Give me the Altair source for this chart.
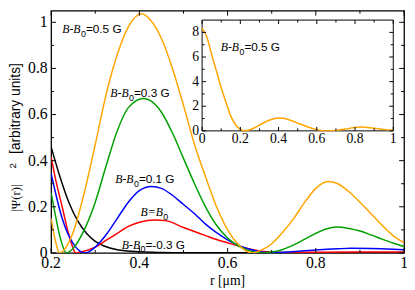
import altair as alt
import pandas as pd

# ---------------- data ----------------
names = ["B-B0=-0.3 G", "B=B0", "B-B0=0.1 G", "B-B0=0.3 G", "B-B0=0.5 G"]
colors = ["#000000", "#ff0000", "#0000ff", "#00a000", "#ffa500"]

r_black = [0.2, 0.22, 0.24, 0.26, 0.28, 0.3, 0.32, 0.35, 0.4, 0.45, 0.5, 0.6, 0.8, 1.0]
psi_black = [0.46, 0.33, 0.22, 0.14, 0.085, 0.05, 0.03, 0.014, 0.005, 0.002, 0.001, 0.001, 0.001, 0.001]

r_red = [0.2, 0.21, 0.225, 0.24, 0.25, 0.255, 0.27, 0.3, 0.325, 0.35, 0.375, 0.4, 0.435,
         0.46, 0.5, 0.55, 0.575, 0.6, 0.625, 0.65, 0.675, 0.7, 0.75, 0.8, 0.9, 1.0]
psi_red = [0.415, 0.32, 0.2, 0.08, 0.02, 0.0, 0.005, 0.025, 0.055, 0.085, 0.115, 0.133, 0.143,
           0.14, 0.11, 0.075, 0.058, 0.044, 0.03, 0.017, 0.008, 0.003, 0.002, 0.003, 0.004, 0.004]

r_blue = [0.2, 0.21, 0.225, 0.25, 0.265, 0.276, 0.29, 0.3, 0.325, 0.35, 0.375, 0.4, 0.427, 0.45,
          0.475, 0.5, 0.525, 0.55, 0.575, 0.6, 0.625, 0.65, 0.68, 0.7, 0.75, 0.8, 0.85, 0.88,
          0.925, 0.975, 1.0]
psi_blue = [0.345, 0.26, 0.15, 0.04, 0.008, 0.0, 0.01, 0.025, 0.08, 0.15, 0.22, 0.27, 0.288, 0.28,
            0.25, 0.21, 0.17, 0.125, 0.088, 0.057, 0.033, 0.016, 0.003, 0.001, 0.006, 0.013, 0.018,
            0.02, 0.019, 0.016, 0.014]

r_green = [0.2, 0.21, 0.22, 0.235, 0.25, 0.275, 0.3, 0.325, 0.35, 0.375, 0.41, 0.425, 0.45, 0.475,
           0.5, 0.525, 0.55, 0.575, 0.6, 0.625, 0.65, 0.68, 0.7, 0.725, 0.75, 0.775, 0.8, 0.825,
           0.845, 0.875, 0.9, 0.925, 0.95, 0.975, 1.0]
psi_green = [0.26, 0.16, 0.07, 0.0, 0.02, 0.10, 0.22, 0.38, 0.53, 0.63, 0.67, 0.66, 0.61, 0.52,
             0.41, 0.30, 0.20, 0.12, 0.065, 0.03, 0.009, 0.0, 0.004, 0.015, 0.035, 0.06, 0.085,
             0.105, 0.112, 0.106, 0.095, 0.078, 0.06, 0.043, 0.028]

r_orange = [0.2, 0.21, 0.219, 0.23, 0.25, 0.275, 0.3, 0.325, 0.35, 0.375, 0.405, 0.425, 0.45,
            0.475, 0.5, 0.525, 0.55, 0.575, 0.6, 0.625, 0.655, 0.68, 0.7, 0.725, 0.75, 0.775,
            0.8, 0.827, 0.85, 0.875, 0.9, 0.925, 0.95, 0.975, 1.0]
psi_orange = [0.15, 0.05, 0.0, 0.015, 0.09, 0.26, 0.47, 0.69, 0.86, 0.98, 1.037, 1.01, 0.93,
              0.80, 0.64, 0.47, 0.33, 0.20, 0.10, 0.035, 0.0, 0.015, 0.04, 0.09, 0.15, 0.22,
              0.28, 0.31, 0.30, 0.265, 0.22, 0.17, 0.12, 0.075, 0.045]

# inset: B-B0 = 0.5 G over the full range
r_inset = [0.0, 0.025, 0.05, 0.075, 0.1, 0.125, 0.15, 0.175, 0.2, 0.219, 0.25, 0.275, 0.3, 0.35,
           0.405, 0.45, 0.5, 0.55, 0.6, 0.655, 0.7, 0.75, 0.8, 0.827, 0.85, 0.9, 0.95, 1.0]
psi_inset = [8.35, 7.6, 6.2, 4.85, 3.5, 2.3, 1.2, 0.5, 0.13, 0.0, 0.09, 0.26, 0.47, 0.86,
             1.037, 0.93, 0.64, 0.33, 0.10, 0.0, 0.04, 0.15, 0.28, 0.31, 0.30, 0.22, 0.12, 0.045]

# curve annotations (position of the end of the italic part)
lab_r = [0.2667, 0.3756, 0.3867, 0.4533, 0.4016]
lab_v = [0.955, 0.677, 0.302, 0.158, 0.019]
lab_a = ["B-B", "B-B", "B-B", "B=B", "B-B"]
lab_b = ["=0.5 G", "=0.3 G", "=0.1 G", "", "=-0.3 G"]

inset_lab_r = [0.193]
inset_lab_v = [6.47]

# ticks and tick labels
main_major_x = [0.2, 0.4, 0.6, 0.8, 1.0]
main_major_x_text = ["0.2", "0.4", "0.6", "0.8", "1"]
main_minor_x = [0.3, 0.5, 0.7, 0.9]
main_major_y = [0.0, 0.2, 0.4, 0.6, 0.8, 1.0]
main_major_y_text = ["0", "0.2", "0.4", "0.6", "0.8", "1"]
main_minor_y = [0.1, 0.3, 0.5, 0.7, 0.9]
inset_major_x = [0.0, 0.2, 0.4, 0.6, 0.8, 1.0]
inset_major_x_text = ["0", "0.2", "0.4", "0.6", "0.8", "1"]
inset_minor_x = [0.1, 0.3, 0.5, 0.7, 0.9]
inset_major_y = [0, 2, 4, 6, 8]
inset_major_y_text = ["0", "2", "4", "6", "8"]
inset_minor_y = [1, 3, 5, 7]

# ---------------- layout ----------------
W, H = 360, 247
IX0, IX1, IY0, IY1 = 154, 349, 122.5, 9.5   # inset frame in plot pixels
SERIF = "Liberation Serif"
SANS = "Liberation Sans"

xs = alt.Scale(domain=[0.2, 1.0], nice=False)
ys = alt.Scale(domain=[0, 1.05], nice=False)
xs_in = alt.Scale(domain=[0, 1], range=[IX0, IX1], nice=False)
ys_in = alt.Scale(domain=[0, 9], range=[IY0, IY1], nice=False)

rows = []
for name, rr, vv in zip(names, [r_black, r_red, r_blue, r_green, r_orange],
                        [psi_black, psi_red, psi_blue, psi_green, psi_orange]):
    for a, b in zip(rr, vv):
        rows.append({"curve": name, "r": a, "psi": b})
df = pd.DataFrame(rows)

lines = alt.Chart(df).mark_line(strokeWidth=1.5, interpolate="monotone", clip=True).encode(
    x=alt.X("r:Q", scale=xs, axis=None),
    y=alt.Y("psi:Q", scale=ys, axis=None),
    color=alt.Color("curve:N", scale=alt.Scale(domain=names, range=colors), legend=None),
)


def xrules(vals, scale, y_a, y_b):
    return alt.Chart(pd.DataFrame({"t": vals})).mark_rule(color="black", strokeWidth=1).encode(
        x=alt.X("t:Q", scale=scale, axis=None), y=alt.value(y_a), y2=alt.value(y_b))


def yrules(vals, scale, x_a, x_b):
    return alt.Chart(pd.DataFrame({"t": vals})).mark_rule(color="black", strokeWidth=1).encode(
        y=alt.Y("t:Q", scale=scale, axis=None), x=alt.value(x_a), x2=alt.value(x_b))


def xlabels(vals, texts, scale, y, size):
    return alt.Chart(pd.DataFrame({"t": vals, "s": texts})).mark_text(
        align="center", baseline="top", font=SERIF, fontSize=size, color="black").encode(
        x=alt.X("t:Q", scale=scale, axis=None), y=alt.value(y), text="s:N")


def ylabels(vals, texts, scale, x, size):
    return alt.Chart(pd.DataFrame({"t": vals, "s": texts})).mark_text(
        align="right", baseline="middle", font=SERIF, fontSize=size, color="black").encode(
        y=alt.Y("t:Q", scale=scale, axis=None), x=alt.value(x), text="s:N")


main_ticks = [
    xrules(main_major_x, xs, H, H - 5), xrules(main_minor_x, xs, H, H - 3),
    xrules(main_major_x, xs, 0, 5), xrules(main_minor_x, xs, 0, 3),
    yrules(main_major_y, ys, 0, 5), yrules(main_minor_y, ys, 0, 3),
    yrules(main_major_y, ys, W, W - 5), yrules(main_minor_y, ys, W, W - 3),
    xlabels(main_major_x, main_major_x_text, xs, H + 2.5, 16),
    ylabels(main_major_y, main_major_y_text, ys, -3.5, 16),
]

labdf = pd.DataFrame({"r": lab_r, "v": lab_v, "a": lab_a, "b": lab_b})
lbase = alt.Chart(labdf).encode(x=alt.X("r:Q", scale=xs, axis=None),
                                y=alt.Y("v:Q", scale=ys, axis=None))
labA = lbase.mark_text(align="right", baseline="alphabetic", font=SERIF, fontStyle="italic",
                       fontSize=12, color="black").encode(text="a:N")
labS = lbase.mark_text(align="left", baseline="alphabetic", font=SANS, fontSize=9, dx=0.5, dy=4,
                       color="black", text="0")
labB = lbase.mark_text(align="left", baseline="alphabetic", font=SANS, fontSize=12, dx=5.5,
                       color="black").encode(text="b:N")


def free_text(s, x, y, **kw):
    return alt.Chart(pd.DataFrame({"s": [s]})).mark_text(color="black", **kw).encode(
        text="s:N", x=alt.value(x), y=alt.value(y))


ytitle = [
    free_text("|Ψ(r)|", -36, 205, angle=270, align="left", baseline="middle", font=SERIF, fontSize=13),
    free_text("2", -38.5, 158, angle=270, align="center", baseline="middle", font=SANS, fontSize=10),
    free_text("[arbitrary units]", -36, 146, angle=270, align="left", baseline="middle",
              font=SANS, fontSize=14),
]
xtitle = free_text("r [μm]", W / 2, 276, align="center", baseline="middle", font=SERIF, fontSize=14)

main = alt.layer(lines, *main_ticks, labA, labS, labB, *ytitle, xtitle)

# ---------------- inset ----------------
frame = alt.Chart(pd.DataFrame({"k": [0]})).mark_rect(fill="white", stroke="black", strokeWidth=1).encode(
    x=alt.XDatum(0, type="quantitative", scale=xs_in, axis=None), x2=alt.datum(1),
    y=alt.YDatum(0, type="quantitative", scale=ys_in, axis=None), y2=alt.datum(9))

inset_line = alt.Chart(pd.DataFrame({"r": r_inset, "psi": psi_inset})).mark_line(
    strokeWidth=1.5, interpolate="monotone", color="#ffa500").encode(
    x=alt.X("r:Q", scale=xs_in, axis=None),
    y=alt.Y("psi:Q", scale=ys_in, axis=None),
)

inset_ticks = [
    xrules(inset_major_x, xs_in, IY0, IY0 - 4), xrules(inset_minor_x, xs_in, IY0, IY0 - 2.5),
    xrules(inset_major_x, xs_in, IY1, IY1 + 4), xrules(inset_minor_x, xs_in, IY1, IY1 + 2.5),
    yrules(inset_major_y, ys_in, IX0, IX0 + 4), yrules(inset_minor_y, ys_in, IX0, IX0 + 2.5),
    yrules(inset_major_y, ys_in, IX1, IX1 - 4), yrules(inset_minor_y, ys_in, IX1, IX1 - 2.5),
    xlabels(inset_major_x, inset_major_x_text, xs_in, IY0 + 1.5, 14),
    ylabels(inset_major_y, inset_major_y_text, ys_in, IX0 - 3, 14),
]

ilab = alt.Chart(pd.DataFrame({"r": inset_lab_r, "v": inset_lab_v})).encode(
    x=alt.X("r:Q", scale=xs_in, axis=None), y=alt.Y("v:Q", scale=ys_in, axis=None))
ilabA = ilab.mark_text(align="right", baseline="alphabetic", font=SERIF, fontStyle="italic",
                       fontSize=12, color="black", text="B-B")
ilabS = ilab.mark_text(align="left", baseline="alphabetic", font=SANS, fontSize=9, dx=0.5, dy=4,
                       color="black", text="0")
ilabB = ilab.mark_text(align="left", baseline="alphabetic", font=SANS, fontSize=12, dx=5.5,
                       color="black", text="=0.5 G")

inset = alt.layer(frame, inset_line, *inset_ticks, ilabA, ilabS, ilabB)

chart = alt.layer(main, inset).resolve_scale(x="independent", y="independent").properties(
    width=W, height=H,
    autosize=alt.AutoSizeParams(type="none"),
    padding={"left": 44, "top": 0, "right": 3, "bottom": 35},
).configure_view(stroke="black", strokeWidth=1.3)

chart.save("out.html", embed_options={"renderer": "svg", "actions": False})
